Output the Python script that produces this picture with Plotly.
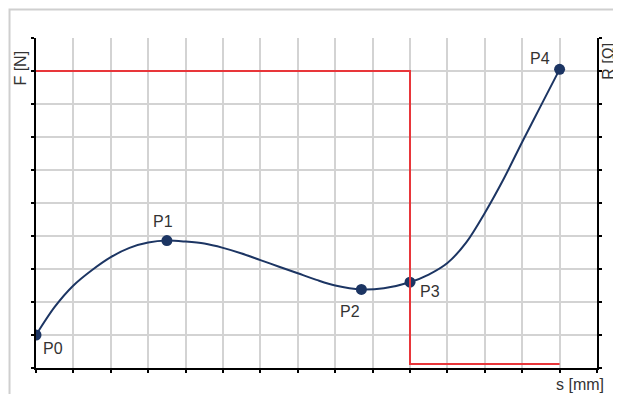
import plotly.graph_objects as go

# marked points (s, F)
pt_names = ['P0', 'P1', 'P2', 'P3', 'P4']
pt_s = [0, 3.5, 8.7, 10, 14]
pt_f = [1.0, 3.86, 2.38, 2.6, 9.05]

# force curve (s, F)
curve_s = [0, 0.5, 1, 1.5, 2, 2.5, 3, 3.5, 4, 4.5, 5, 5.5, 6, 6.5, 7, 7.5, 8, 8.7,
           9.3, 10, 10.5, 11, 11.5, 12, 12.5, 13, 13.5, 14]
curve_f = [1.0, 1.85, 2.5, 2.97, 3.36, 3.64, 3.8, 3.86, 3.83, 3.77, 3.64, 3.47, 3.27,
           3.07, 2.87, 2.67, 2.5, 2.38, 2.42, 2.6, 2.83, 3.18, 3.8, 4.7, 5.72, 6.85, 7.95, 9.05]

# resistance step (s, R)
r_s = [0, 10, 10, 14]
r_val = [9, 9, 0.12, 0.12]

navy = '#1c3563'
red = '#e8363a'
txt = '#333333'
fnt = 'Liberation Sans, Arial, sans-serif'

fig = go.Figure()
fig.add_trace(go.Scatter(x=r_s, y=r_val, mode='lines', yaxis='y2',
                         line=dict(color=red, width=2), hoverinfo='skip'))
fig.add_trace(go.Scatter(x=curve_s, y=curve_f, mode='lines',
                         line=dict(color=navy, width=2, shape='spline', smoothing=0.9)))
fig.add_trace(go.Scatter(x=pt_s, y=pt_f, mode='markers', text=pt_names,
                         marker=dict(color=navy, size=11)))

# point labels
lab_pos = {
    'P0': dict(xanchor='left', yanchor='top', xshift=5, yshift=-3),
    'P1': dict(xanchor='center', yanchor='bottom', xshift=-4, yshift=9),
    'P2': dict(xanchor='right', yanchor='top', xshift=1, yshift=-12),
    'P3': dict(xanchor='left', yanchor='top', xshift=8, yshift=1),
    'P4': dict(xanchor='right', yanchor='bottom', xshift=-8, yshift=0),
}
for n, s, f in zip(pt_names, pt_s, pt_f):
    fig.add_annotation(x=s, y=f, text=n, showarrow=False,
                       font=dict(size=16, color=txt, family=fnt), **lab_pos[n])

# axis titles
fig.add_annotation(xref='paper', yref='paper', x=-0.027, y=0.91, text='F [N]', textangle=-90,
                   showarrow=False, xanchor='center', yanchor='middle',
                   font=dict(size=16, color=txt, family=fnt))
fig.add_annotation(xref='paper', yref='paper', x=1.019, y=0.93, text='R [Ω]', textangle=-90,
                   showarrow=False, xanchor='center', yanchor='middle',
                   font=dict(size=16, color=txt, family=fnt))
fig.add_annotation(xref='paper', yref='paper', x=1.016, y=-0.018, text='s [mm]',
                   showarrow=False, xanchor='right', yanchor='top',
                   font=dict(size=16, color=txt, family=fnt))

# light frame along the top and left edge of the figure
fig.add_shape(type='rect', xref='paper', yref='paper', x0=-0.0472, x1=1.2,
              y0=-0.2, y1=1.0864, line=dict(color='#cfcfcf', width=2),
              fillcolor='rgba(0,0,0,0)', layer='above')

axis_common = dict(showline=True, linecolor='black', linewidth=2, ticks='outside',
                   ticklen=3, tickwidth=2, tickcolor='black', showticklabels=False,
                   zeroline=False)

fig.update_layout(
    width=613, height=386,
    margin=dict(l=28, r=24, t=30, b=26),
    paper_bgcolor='white', plot_bgcolor='white',
    showlegend=False,
    xaxis=dict(range=[0, 15], dtick=1, tick0=0, showgrid=True, gridcolor='#d3d3d3',
               gridwidth=2, **axis_common),
    yaxis=dict(range=[0, 10], dtick=1, tick0=0, showgrid=True, gridcolor='#d3d3d3',
               gridwidth=2, **axis_common),
    yaxis2=dict(range=[0, 10], dtick=1, tick0=0, overlaying='y', side='right',
                showgrid=False, **axis_common),
)

fig.write_html('out.html')
